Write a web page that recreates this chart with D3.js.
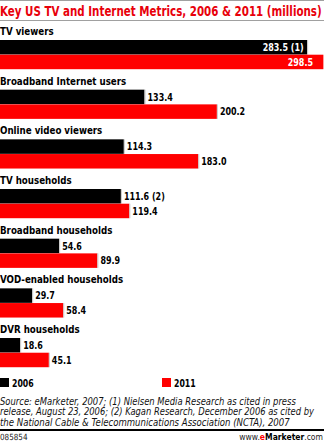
<!DOCTYPE html>
<html><head><meta charset="utf-8">
<script src="https://cdn.jsdelivr.net/npm/d3@7"></script>
<style>body{margin:0;background:#fff}svg{display:block;font-family:"DejaVu Sans",Verdana,sans-serif}</style>
</head><body><svg id="c" width="324" height="441"></svg>
<script>
const title = "Key US TV and Internet Metrics, 2006 & 2011 (millions)";
const categories = ["TV viewers","Broadband Internet users","Online video viewers","TV households","Broadband households","VOD-enabled households","DVR households"];
const values2006 = [283.5,133.4,114.3,111.6,54.6,29.7,18.6];
const values2011 = [298.5,200.2,183.0,119.4,89.9,58.4,45.1];
const notes2006 = [" (1)","",""," (2)","","",""];
const notes2011 = ["","","","","","",""];
const seriesNames = ["2006","2011"];
const sourceLines = [
  "Source: eMarketer, 2007; (1) Nielsen Media Research as cited in press",
  "release, August 23, 2006; (2) Kagan Research, December 2006 as cited by",
  "the National Cable & Telecommunications Association (NCTA), 2007"
];
const chartId = "085854";

const W = 324, H = 441;
const RED = "#ff0000", BLACK = "#000000";
const svg = d3.select("#c");
svg.append("rect").attr("width",W).attr("height",H).attr("fill","#fff");

// helper: squeezed text
function txt(parent, x, y, s, o) {
  o = o || {};
  const t = parent.append("text")
    .attr("transform", `translate(${x},${y})`)
    .attr("font-size", o.size || 10)
    .attr("font-weight", o.weight || "bold")
    .attr("font-style", o.style || "normal")
    .attr("fill", o.fill || "#000")
    .attr("text-anchor", o.anchor || "start")
    .text(s);
  let k = o.k || 1;
  if (o.fit) { k = o.fit / t.node().getComputedTextLength(); }
  t.attr("transform", `translate(${x},${y}) scale(${k},1)`);
  return t;
}

// top rules
svg.append("rect").attr("x",0).attr("y",0).attr("width",W).attr("height",1).attr("fill","#a0a0a0");
txt(svg, 0, 15.5, title, {size:13.5, fill:"#e8000b", fit:322});
svg.append("rect").attr("x",0).attr("y",20).attr("width",W).attr("height",1).attr("fill","#a0a0a0");

const x = d3.scaleLinear().domain([0,300]).range([0,325]);
const y = d3.scaleBand().domain(categories).range([25.5, 25.5 + 7*49.67]).paddingInner(0);
const barH = 14.5;

const g = svg.append("g");
categories.forEach((c,i) => {
  const y0 = y(c);
  txt(g, 0, y0 + 9.5, c, {size:10, k:0.87});
  const series = [
    {v: values2006[i], note: notes2006[i], color: BLACK, top: y0 + 14.5},
    {v: values2011[i], note: notes2011[i], color: RED, top: y0 + 29.2}
  ];
  series.forEach(s => {
    g.append("rect").attr("x",0).attr("y",s.top).attr("width",x(s.v)).attr("height",barH).attr("fill",s.color);
    g.append("rect").attr("x",x(s.v)).attr("y",s.top).attr("width",1).attr("height",barH).attr("fill","#c8c8c8").attr("opacity", x(s.v) < W-2 ? 1 : 0);
    const label = d3.format(".1f")(s.v) + s.note;
    const inside = x(s.v) > 260;
    if (inside) {
      const xe = Math.min(x(s.v) - 3.5, W - 11);
      txt(g, xe, s.top + 11, label, {size:10, k:0.8, fill:"#fff", anchor:"end"});
    } else {
      txt(g, x(s.v) + 3, s.top + 11, label, {size:10, k:0.8});
    }
  });
});

// legend
const lg = svg.append("g");
[0,1].forEach(j => {
  const lx = j === 0 ? 0 : 162;
  lg.append("rect").attr("x",lx).attr("y",378).attr("width",9).attr("height",9).attr("fill", j===0?BLACK:RED);
  txt(lg, lx + 12, 387, seriesNames[j], {size:10, k:0.78});
});

// source
const srcFit = [296, 314, 290];
sourceLines.forEach((l,i) => {
  txt(svg, 0, 404.5 + i*10.5, l, {size:10, weight:"normal", style:"italic", fill:"#111", fit:srcFit[i]});
});

svg.append("rect").attr("x",0).attr("y",429).attr("width",W).attr("height",2).attr("fill","#000");
txt(svg, 0, 439.5, chartId, {size:8.5, weight:"normal", fill:"#222", k:0.85});
const ft = txt(svg, 323, 439.5, "", {size:9, weight:"normal", fill:"#222", anchor:"end", k:0.85});
ft.append("tspan").text("www.");
ft.append("tspan").attr("fill",RED).attr("font-weight","bold").text("e");
ft.append("tspan").attr("font-weight","bold").attr("fill","#000").text("Marketer");
ft.append("tspan").text(".com");
</script></body></html>
